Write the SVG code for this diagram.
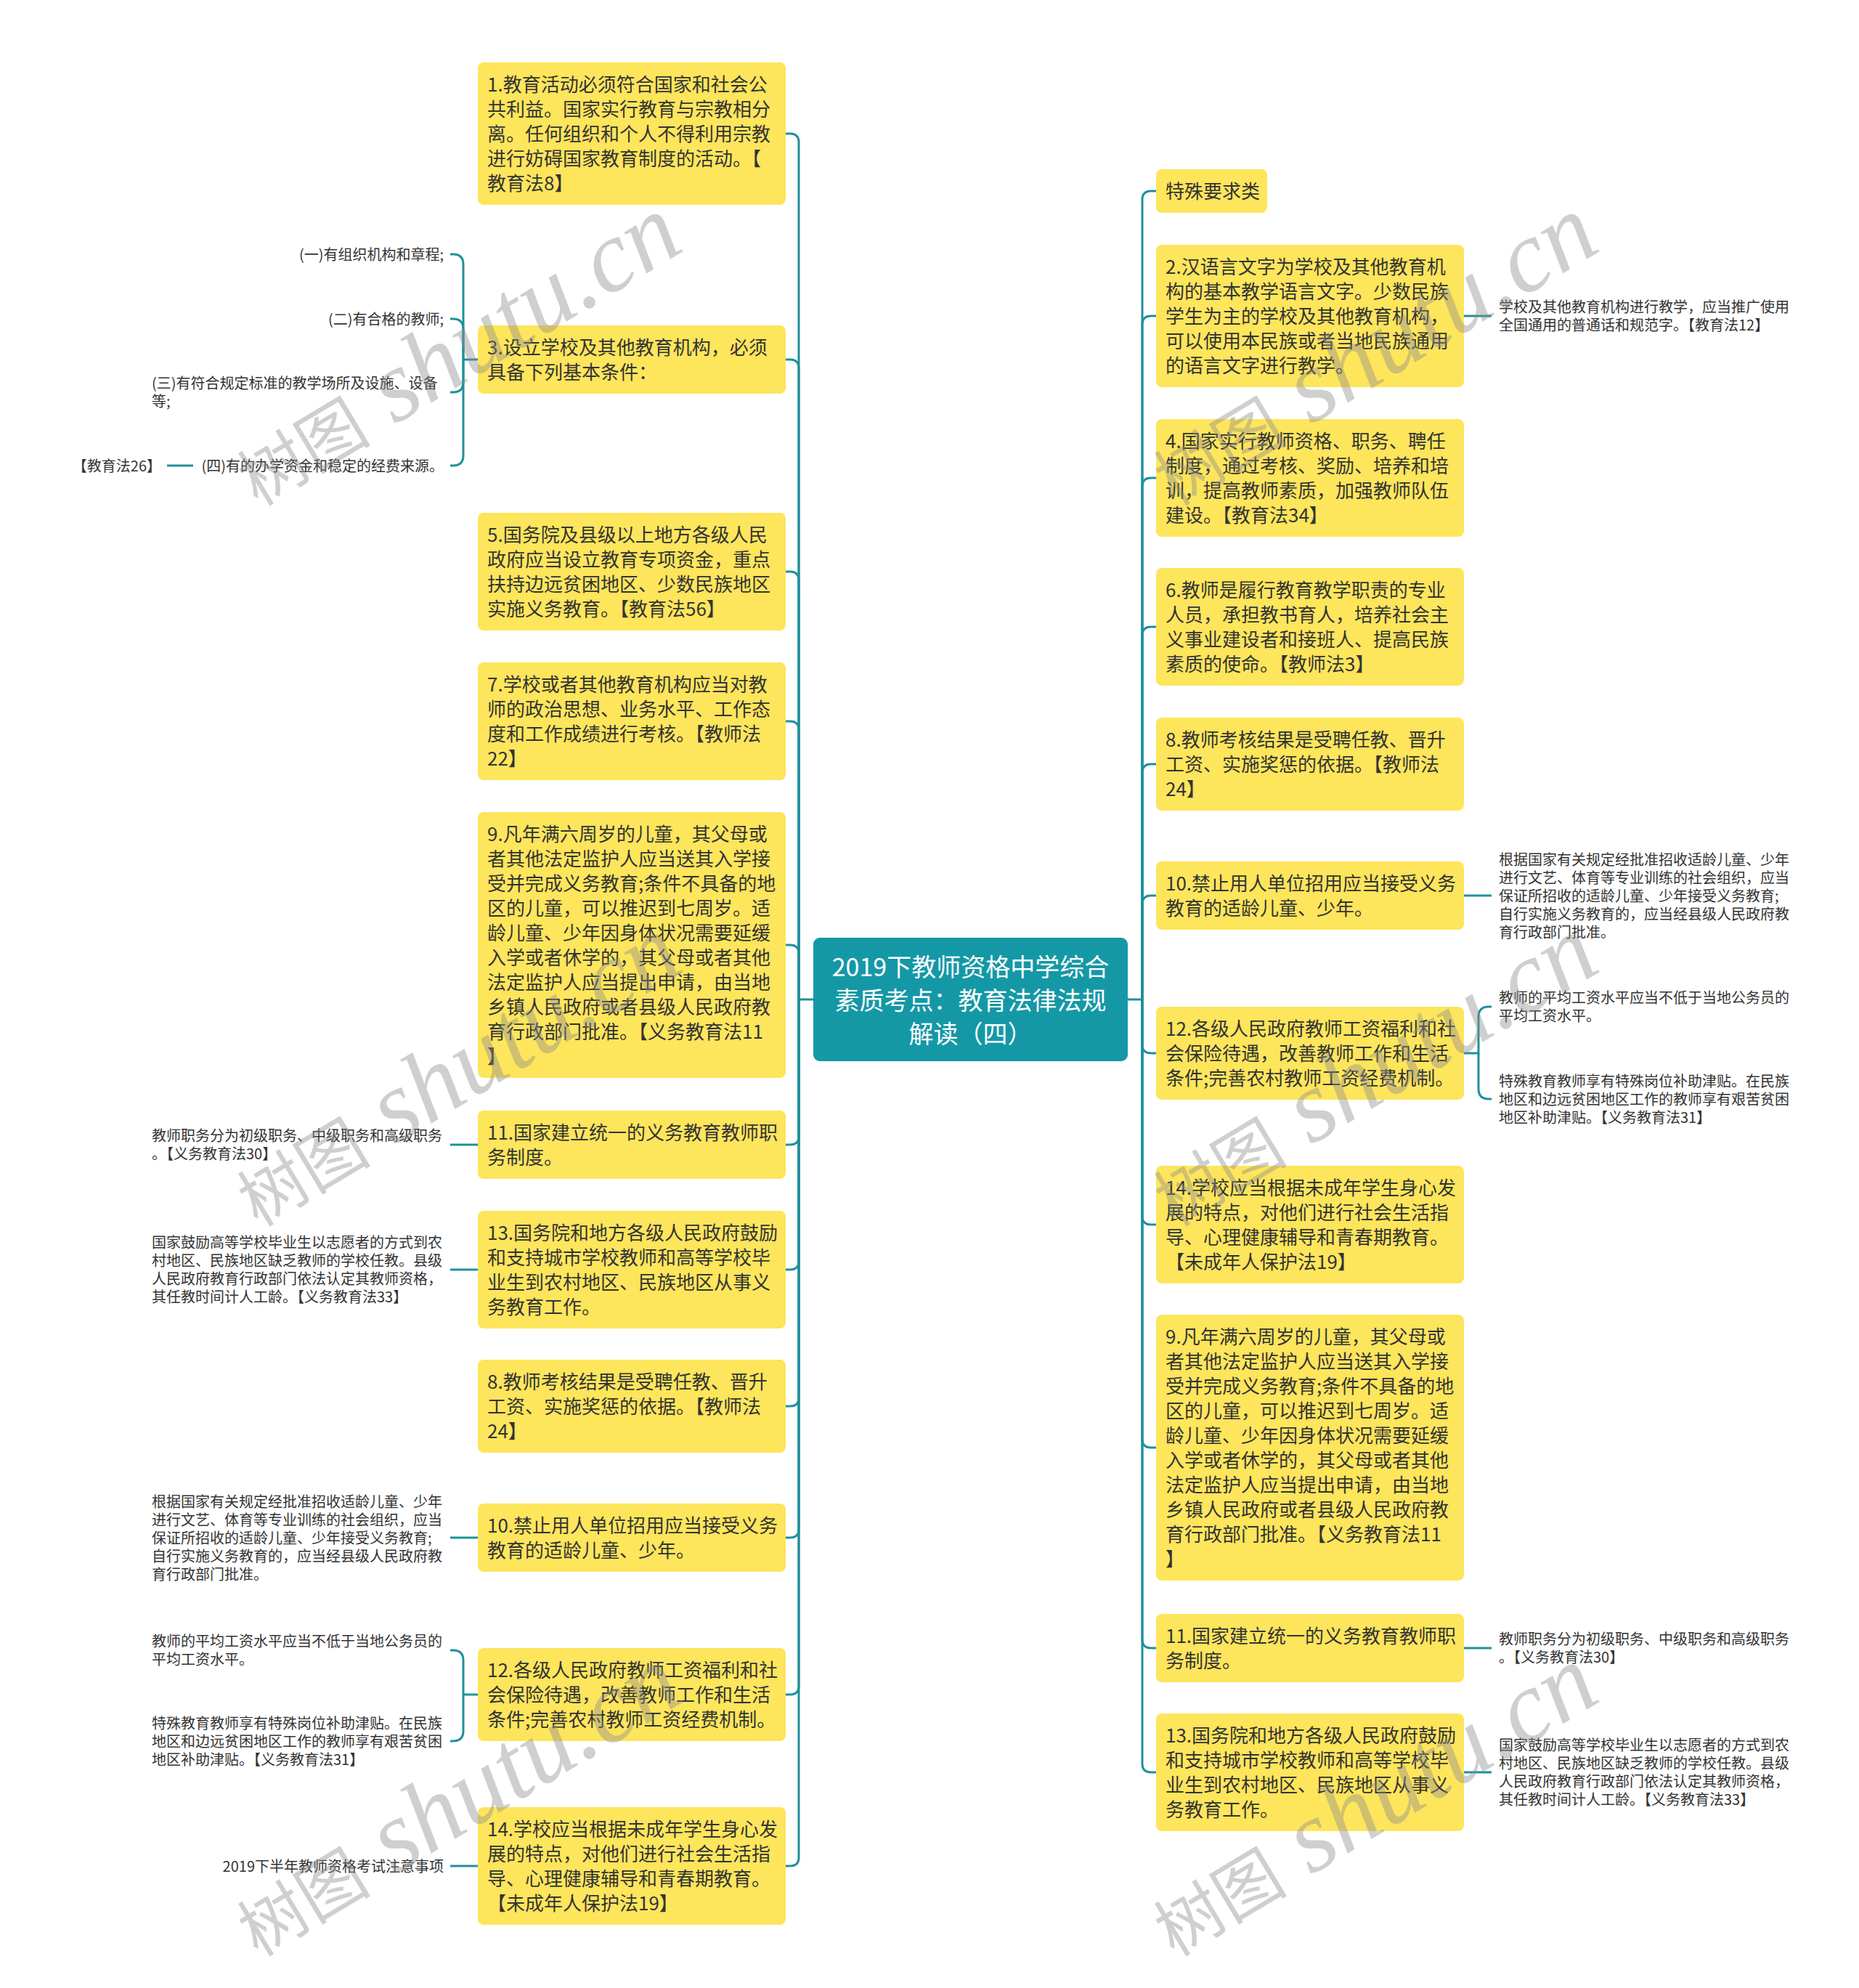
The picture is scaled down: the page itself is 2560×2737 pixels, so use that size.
<svg xmlns="http://www.w3.org/2000/svg" width="2560" height="2737" viewBox="0 0 2560 2737">
<style>
.bx{fill:#fde55c}
.t{font-family:"Noto Sans CJK SC","Noto Sans",sans-serif;font-size:26px;fill:#333}
.c{font-family:"Noto Sans CJK SC","Noto Sans",sans-serif;font-size:20px;fill:#333}
.e{text-anchor:end}
.ctr{font-family:"Noto Sans CJK SC","Noto Sans",sans-serif;font-size:34px;fill:#fff;text-anchor:middle}
.ln{fill:none;stroke:#1f909c;stroke-width:3}
.wm{fill:#8c8c8c;fill-opacity:0.42}
.wc{font-family:"Noto Sans CJK SC",sans-serif;font-size:92px}
.wl{font-family:"Liberation Serif",serif;font-style:italic;font-size:140px}
</style>
<rect width="2560" height="2737" fill="#fff"/>
<g id="connectors">
<!-- left main -->
<path class="ln" d="M1120 1376 H1100 V196 Q1100 184 1088 184 H1082"/>
<path class="ln" d="M1100 1376 V507 Q1100 495 1088 495 H1082"/>
<path class="ln" d="M1100 1376 V799 Q1100 787 1088 787 H1082"/>
<path class="ln" d="M1100 1376 V1005 Q1100 993 1088 993 H1082"/>
<path class="ln" d="M1100 1376 V1313 Q1100 1301 1088 1301 H1082"/>
<path class="ln" d="M1100 1376 V1564 Q1100 1576 1088 1576 H1082"/>
<path class="ln" d="M1100 1376 V1736 Q1100 1748 1088 1748 H1082"/>
<path class="ln" d="M1100 1376 V1924 Q1100 1936 1088 1936 H1082"/>
<path class="ln" d="M1100 1376 V2105 Q1100 2117 1088 2117 H1082"/>
<path class="ln" d="M1100 1376 V2321 Q1100 2333 1088 2333 H1082"/>
<path class="ln" d="M1100 1376 V2557 Q1100 2569 1088 2569 H1082"/>
<!-- right main -->
<path class="ln" d="M1553 1376 H1573 V275 Q1573 263 1585 263 H1592"/>
<path class="ln" d="M1573 1376 V447 Q1573 435 1585 435 H1592"/>
<path class="ln" d="M1573 1376 V670 Q1573 658 1585 658 H1592"/>
<path class="ln" d="M1573 1376 V875 Q1573 863 1585 863 H1592"/>
<path class="ln" d="M1573 1376 V1064 Q1573 1052 1585 1052 H1592"/>
<path class="ln" d="M1573 1376 V1245 Q1573 1233 1585 1233 H1592"/>
<path class="ln" d="M1573 1376 V1438 Q1573 1450 1585 1450 H1592"/>
<path class="ln" d="M1573 1376 V1674 Q1573 1686 1585 1686 H1592"/>
<path class="ln" d="M1573 1376 V1981 Q1573 1993 1585 1993 H1592"/>
<path class="ln" d="M1573 1376 V2257 Q1573 2269 1585 2269 H1592"/>
<path class="ln" d="M1573 1376 V2428 Q1573 2440 1585 2440 H1592"/>
<!-- left children -->
<path class="ln" d="M658 495 H638 V364 Q638 350 624 350 H620"/>
<path class="ln" d="M638 495 V453 Q638 439 624 439 H620"/>
<path class="ln" d="M638 495 V526 Q638 540 624 540 H620"/>
<path class="ln" d="M638 495 V627 Q638 641 624 641 H620"/>
<path class="ln" d="M230 641 H266"/>
<path class="ln" d="M658 1576 H620"/>
<path class="ln" d="M658 1748 H620"/>
<path class="ln" d="M658 2117 H620"/>
<path class="ln" d="M658 2333 H638 V2286 Q638 2272 624 2272 H620"/>
<path class="ln" d="M638 2333 V2383 Q638 2397 624 2397 H620"/>
<path class="ln" d="M658 2569 H620"/>
<!-- right children -->
<path class="ln" d="M2016 435 H2054"/>
<path class="ln" d="M2016 1233 H2054"/>
<path class="ln" d="M2016 1450 H2036 V1400 Q2036 1386 2050 1386 H2054"/>
<path class="ln" d="M2036 1450 V1499 Q2036 1513 2050 1513 H2054"/>
<path class="ln" d="M2016 2269 H2054"/>
<path class="ln" d="M2016 2440 H2054"/>
</g>
<g id="root">
<rect x="1120" y="1291" width="433" height="170" rx="9" fill="#1598a6"/>
<text class="ctr"><tspan x="1336.5" y="1344">2019下教师资格中学综合</tspan><tspan x="1336.5" y="1390">素质考点：教育法律法规</tspan><tspan x="1336.5" y="1436">解读（四）</tspan></text>
</g>
<g id="L1"><rect class="bx" x="658" y="86" width="424" height="196" rx="8"/>
<text class="t"><tspan x="671" y="126">1.教育活动必须符合国家和社会公</tspan><tspan x="671" y="160">共利益。国家实行教育与宗教相分</tspan><tspan x="671" y="194">离。任何组织和个人不得利用宗教</tspan><tspan x="671" y="228">进行妨碍国家教育制度的活动。【</tspan><tspan x="671" y="262">教育法8】</tspan></text></g>
<g id="L3"><rect class="bx" x="658" y="448" width="424" height="94" rx="8"/>
<text class="t"><tspan x="671" y="488">3.设立学校及其他教育机构，必须</tspan><tspan x="671" y="522">具备下列基本条件：</tspan></text></g>
<g id="L3a"><text class="c e" x="611" y="357.5">(一)有组织机构和章程;</text></g>
<g id="L3b"><text class="c e" x="611" y="446.5">(二)有合格的教师;</text></g>
<g id="L3c"><text class="c"><tspan x="209" y="535">(三)有符合规定标准的教学场所及设施、设备</tspan><tspan x="209" y="560">等;</tspan></text></g>
<g id="L3d"><text class="c e" x="611" y="648.5">(四)有的办学资金和稳定的经费来源。</text></g>
<g id="L3d1"><text class="c e" x="222" y="648.5">【教育法26】</text></g>
<g id="L5"><rect class="bx" x="658" y="706" width="424" height="162" rx="8"/>
<text class="t"><tspan x="671" y="746">5.国务院及县级以上地方各级人民</tspan><tspan x="671" y="780">政府应当设立教育专项资金，重点</tspan><tspan x="671" y="814">扶持边远贫困地区、少数民族地区</tspan><tspan x="671" y="848">实施义务教育。【教育法56】</tspan></text></g>
<g id="L7"><rect class="bx" x="658" y="912" width="424" height="162" rx="8"/>
<text class="t"><tspan x="671" y="952">7.学校或者其他教育机构应当对教</tspan><tspan x="671" y="986">师的政治思想、业务水平、工作态</tspan><tspan x="671" y="1020">度和工作成绩进行考核。【教师法</tspan><tspan x="671" y="1054">22】</tspan></text></g>
<g id="L9"><rect class="bx" x="658" y="1118" width="424" height="366" rx="8"/>
<text class="t"><tspan x="671" y="1158">9.凡年满六周岁的儿童，其父母或</tspan><tspan x="671" y="1192">者其他法定监护人应当送其入学接</tspan><tspan x="671" y="1226">受并完成义务教育;条件不具备的地</tspan><tspan x="671" y="1260">区的儿童，可以推迟到七周岁。适</tspan><tspan x="671" y="1294">龄儿童、少年因身体状况需要延缓</tspan><tspan x="671" y="1328">入学或者休学的，其父母或者其他</tspan><tspan x="671" y="1362">法定监护人应当提出申请，由当地</tspan><tspan x="671" y="1396">乡镇人民政府或者县级人民政府教</tspan><tspan x="671" y="1430">育行政部门批准。【义务教育法11</tspan><tspan x="671" y="1464">】</tspan></text></g>
<g id="L11"><rect class="bx" x="658" y="1529" width="424" height="94" rx="8"/>
<text class="t"><tspan x="671" y="1569">11.国家建立统一的义务教育教师职</tspan><tspan x="671" y="1603">务制度。</tspan></text></g>
<g id="L11a"><text class="c"><tspan x="209" y="1571">教师职务分为初级职务、中级职务和高级职务</tspan><tspan x="209" y="1596">。【义务教育法30】</tspan></text></g>
<g id="L13"><rect class="bx" x="658" y="1667" width="424" height="162" rx="8"/>
<text class="t"><tspan x="671" y="1707">13.国务院和地方各级人民政府鼓励</tspan><tspan x="671" y="1741">和支持城市学校教师和高等学校毕</tspan><tspan x="671" y="1775">业生到农村地区、民族地区从事义</tspan><tspan x="671" y="1809">务教育工作。</tspan></text></g>
<g id="L13a"><text class="c"><tspan x="209" y="1718">国家鼓励高等学校毕业生以志愿者的方式到农</tspan><tspan x="209" y="1743">村地区、民族地区缺乏教师的学校任教。县级</tspan><tspan x="209" y="1768">人民政府教育行政部门依法认定其教师资格，</tspan><tspan x="209" y="1793">其任教时间计人工龄。【义务教育法33】</tspan></text></g>
<g id="L8"><rect class="bx" x="658" y="1872" width="424" height="128" rx="8"/>
<text class="t"><tspan x="671" y="1912">8.教师考核结果是受聘任教、晋升</tspan><tspan x="671" y="1946">工资、实施奖惩的依据。【教师法</tspan><tspan x="671" y="1980">24】</tspan></text></g>
<g id="L10"><rect class="bx" x="658" y="2070" width="424" height="94" rx="8"/>
<text class="t"><tspan x="671" y="2110">10.禁止用人单位招用应当接受义务</tspan><tspan x="671" y="2144">教育的适龄儿童、少年。</tspan></text></g>
<g id="L10a"><text class="c"><tspan x="209" y="2074.5">根据国家有关规定经批准招收适龄儿童、少年</tspan><tspan x="209" y="2099.5">进行文艺、体育等专业训练的社会组织，应当</tspan><tspan x="209" y="2124.5">保证所招收的适龄儿童、少年接受义务教育;</tspan><tspan x="209" y="2149.5">自行实施义务教育的，应当经县级人民政府教</tspan><tspan x="209" y="2174.5">育行政部门批准。</tspan></text></g>
<g id="L12"><rect class="bx" x="658" y="2269" width="424" height="128" rx="8"/>
<text class="t"><tspan x="671" y="2309">12.各级人民政府教师工资福利和社</tspan><tspan x="671" y="2343">会保险待遇，改善教师工作和生活</tspan><tspan x="671" y="2377">条件;完善农村教师工资经费机制。</tspan></text></g>
<g id="L12a"><text class="c"><tspan x="209" y="2267">教师的平均工资水平应当不低于当地公务员的</tspan><tspan x="209" y="2292">平均工资水平。</tspan></text></g>
<g id="L12b"><text class="c"><tspan x="209" y="2379.5">特殊教育教师享有特殊岗位补助津贴。在民族</tspan><tspan x="209" y="2404.5">地区和边远贫困地区工作的教师享有艰苦贫困</tspan><tspan x="209" y="2429.5">地区补助津贴。【义务教育法31】</tspan></text></g>
<g id="L14"><rect class="bx" x="658" y="2488" width="424" height="162" rx="8"/>
<text class="t"><tspan x="671" y="2528">14.学校应当根据未成年学生身心发</tspan><tspan x="671" y="2562">展的特点，对他们进行社会生活指</tspan><tspan x="671" y="2596">导、心理健康辅导和青春期教育。</tspan><tspan x="671" y="2630">【未成年人保护法19】</tspan></text></g>
<g id="L14a"><text class="c e" x="611" y="2576.5">2019下半年教师资格考试注意事项</text></g>
<g id="R0"><rect class="bx" x="1592" y="233" width="153" height="60" rx="8"/>
<text class="t" x="1605" y="273">特殊要求类</text></g>
<g id="R2"><rect class="bx" x="1592" y="337" width="424" height="196" rx="8"/>
<text class="t"><tspan x="1605" y="377">2.汉语言文字为学校及其他教育机</tspan><tspan x="1605" y="411">构的基本教学语言文字。少数民族</tspan><tspan x="1605" y="445">学生为主的学校及其他教育机构，</tspan><tspan x="1605" y="479">可以使用本民族或者当地民族通用</tspan><tspan x="1605" y="513">的语言文字进行教学。</tspan></text></g>
<g id="R2a"><text class="c"><tspan x="2064" y="430">学校及其他教育机构进行教学，应当推广使用</tspan><tspan x="2064" y="455">全国通用的普通话和规范字。【教育法12】</tspan></text></g>
<g id="R4"><rect class="bx" x="1592" y="577" width="424" height="162" rx="8"/>
<text class="t"><tspan x="1605" y="617">4.国家实行教师资格、职务、聘任</tspan><tspan x="1605" y="651">制度，通过考核、奖励、培养和培</tspan><tspan x="1605" y="685">训，提高教师素质，加强教师队伍</tspan><tspan x="1605" y="719">建设。【教育法34】</tspan></text></g>
<g id="R6"><rect class="bx" x="1592" y="782" width="424" height="162" rx="8"/>
<text class="t"><tspan x="1605" y="822">6.教师是履行教育教学职责的专业</tspan><tspan x="1605" y="856">人员，承担教书育人，培养社会主</tspan><tspan x="1605" y="890">义事业建设者和接班人、提高民族</tspan><tspan x="1605" y="924">素质的使命。【教师法3】</tspan></text></g>
<g id="R8"><rect class="bx" x="1592" y="988" width="424" height="128" rx="8"/>
<text class="t"><tspan x="1605" y="1028">8.教师考核结果是受聘任教、晋升</tspan><tspan x="1605" y="1062">工资、实施奖惩的依据。【教师法</tspan><tspan x="1605" y="1096">24】</tspan></text></g>
<g id="R10"><rect class="bx" x="1592" y="1186" width="424" height="94" rx="8"/>
<text class="t"><tspan x="1605" y="1226">10.禁止用人单位招用应当接受义务</tspan><tspan x="1605" y="1260">教育的适龄儿童、少年。</tspan></text></g>
<g id="R10a"><text class="c"><tspan x="2064" y="1190.5">根据国家有关规定经批准招收适龄儿童、少年</tspan><tspan x="2064" y="1215.5">进行文艺、体育等专业训练的社会组织，应当</tspan><tspan x="2064" y="1240.5">保证所招收的适龄儿童、少年接受义务教育;</tspan><tspan x="2064" y="1265.5">自行实施义务教育的，应当经县级人民政府教</tspan><tspan x="2064" y="1290.5">育行政部门批准。</tspan></text></g>
<g id="R12"><rect class="bx" x="1592" y="1386" width="424" height="128" rx="8"/>
<text class="t"><tspan x="1605" y="1426">12.各级人民政府教师工资福利和社</tspan><tspan x="1605" y="1460">会保险待遇，改善教师工作和生活</tspan><tspan x="1605" y="1494">条件;完善农村教师工资经费机制。</tspan></text></g>
<g id="R12a"><text class="c"><tspan x="2064" y="1381">教师的平均工资水平应当不低于当地公务员的</tspan><tspan x="2064" y="1406">平均工资水平。</tspan></text></g>
<g id="R12b"><text class="c"><tspan x="2064" y="1495.5">特殊教育教师享有特殊岗位补助津贴。在民族</tspan><tspan x="2064" y="1520.5">地区和边远贫困地区工作的教师享有艰苦贫困</tspan><tspan x="2064" y="1545.5">地区补助津贴。【义务教育法31】</tspan></text></g>
<g id="R14"><rect class="bx" x="1592" y="1605" width="424" height="162" rx="8"/>
<text class="t"><tspan x="1605" y="1645">14.学校应当根据未成年学生身心发</tspan><tspan x="1605" y="1679">展的特点，对他们进行社会生活指</tspan><tspan x="1605" y="1713">导、心理健康辅导和青春期教育。</tspan><tspan x="1605" y="1747">【未成年人保护法19】</tspan></text></g>
<g id="R9"><rect class="bx" x="1592" y="1810" width="424" height="366" rx="8"/>
<text class="t"><tspan x="1605" y="1850">9.凡年满六周岁的儿童，其父母或</tspan><tspan x="1605" y="1884">者其他法定监护人应当送其入学接</tspan><tspan x="1605" y="1918">受并完成义务教育;条件不具备的地</tspan><tspan x="1605" y="1952">区的儿童，可以推迟到七周岁。适</tspan><tspan x="1605" y="1986">龄儿童、少年因身体状况需要延缓</tspan><tspan x="1605" y="2020">入学或者休学的，其父母或者其他</tspan><tspan x="1605" y="2054">法定监护人应当提出申请，由当地</tspan><tspan x="1605" y="2088">乡镇人民政府或者县级人民政府教</tspan><tspan x="1605" y="2122">育行政部门批准。【义务教育法11</tspan><tspan x="1605" y="2156">】</tspan></text></g>
<g id="R11"><rect class="bx" x="1592" y="2222" width="424" height="94" rx="8"/>
<text class="t"><tspan x="1605" y="2262">11.国家建立统一的义务教育教师职</tspan><tspan x="1605" y="2296">务制度。</tspan></text></g>
<g id="R11a"><text class="c"><tspan x="2064" y="2264">教师职务分为初级职务、中级职务和高级职务</tspan><tspan x="2064" y="2289">。【义务教育法30】</tspan></text></g>
<g id="R13"><rect class="bx" x="1592" y="2359" width="424" height="162" rx="8"/>
<text class="t"><tspan x="1605" y="2399">13.国务院和地方各级人民政府鼓励</tspan><tspan x="1605" y="2433">和支持城市学校教师和高等学校毕</tspan><tspan x="1605" y="2467">业生到农村地区、民族地区从事义</tspan><tspan x="1605" y="2501">务教育工作。</tspan></text></g>
<g id="R13a"><text class="c"><tspan x="2064" y="2410">国家鼓励高等学校毕业生以志愿者的方式到农</tspan><tspan x="2064" y="2435">村地区、民族地区缺乏教师的学校任教。县级</tspan><tspan x="2064" y="2460">人民政府教育行政部门依法认定其教师资格，</tspan><tspan x="2064" y="2485">其任教时间计人工龄。【义务教育法33】</tspan></text></g>
<g id="watermark" class="wm">
<text transform="translate(355 698) rotate(-31)"><tspan class="wc">树图</tspan><tspan class="wl"> shutu.cn</tspan></text>
<text transform="translate(1617 698) rotate(-31)"><tspan class="wc">树图</tspan><tspan class="wl"> shutu.cn</tspan></text>
<text transform="translate(355 1690) rotate(-31)"><tspan class="wc">树图</tspan><tspan class="wl"> shutu.cn</tspan></text>
<text transform="translate(1617 1690) rotate(-31)"><tspan class="wc">树图</tspan><tspan class="wl"> shutu.cn</tspan></text>
<text transform="translate(355 2695) rotate(-31)"><tspan class="wc">树图</tspan><tspan class="wl"> shutu.cn</tspan></text>
<text transform="translate(1617 2695) rotate(-31)"><tspan class="wc">树图</tspan><tspan class="wl"> shutu.cn</tspan></text>
</g>
</svg>
